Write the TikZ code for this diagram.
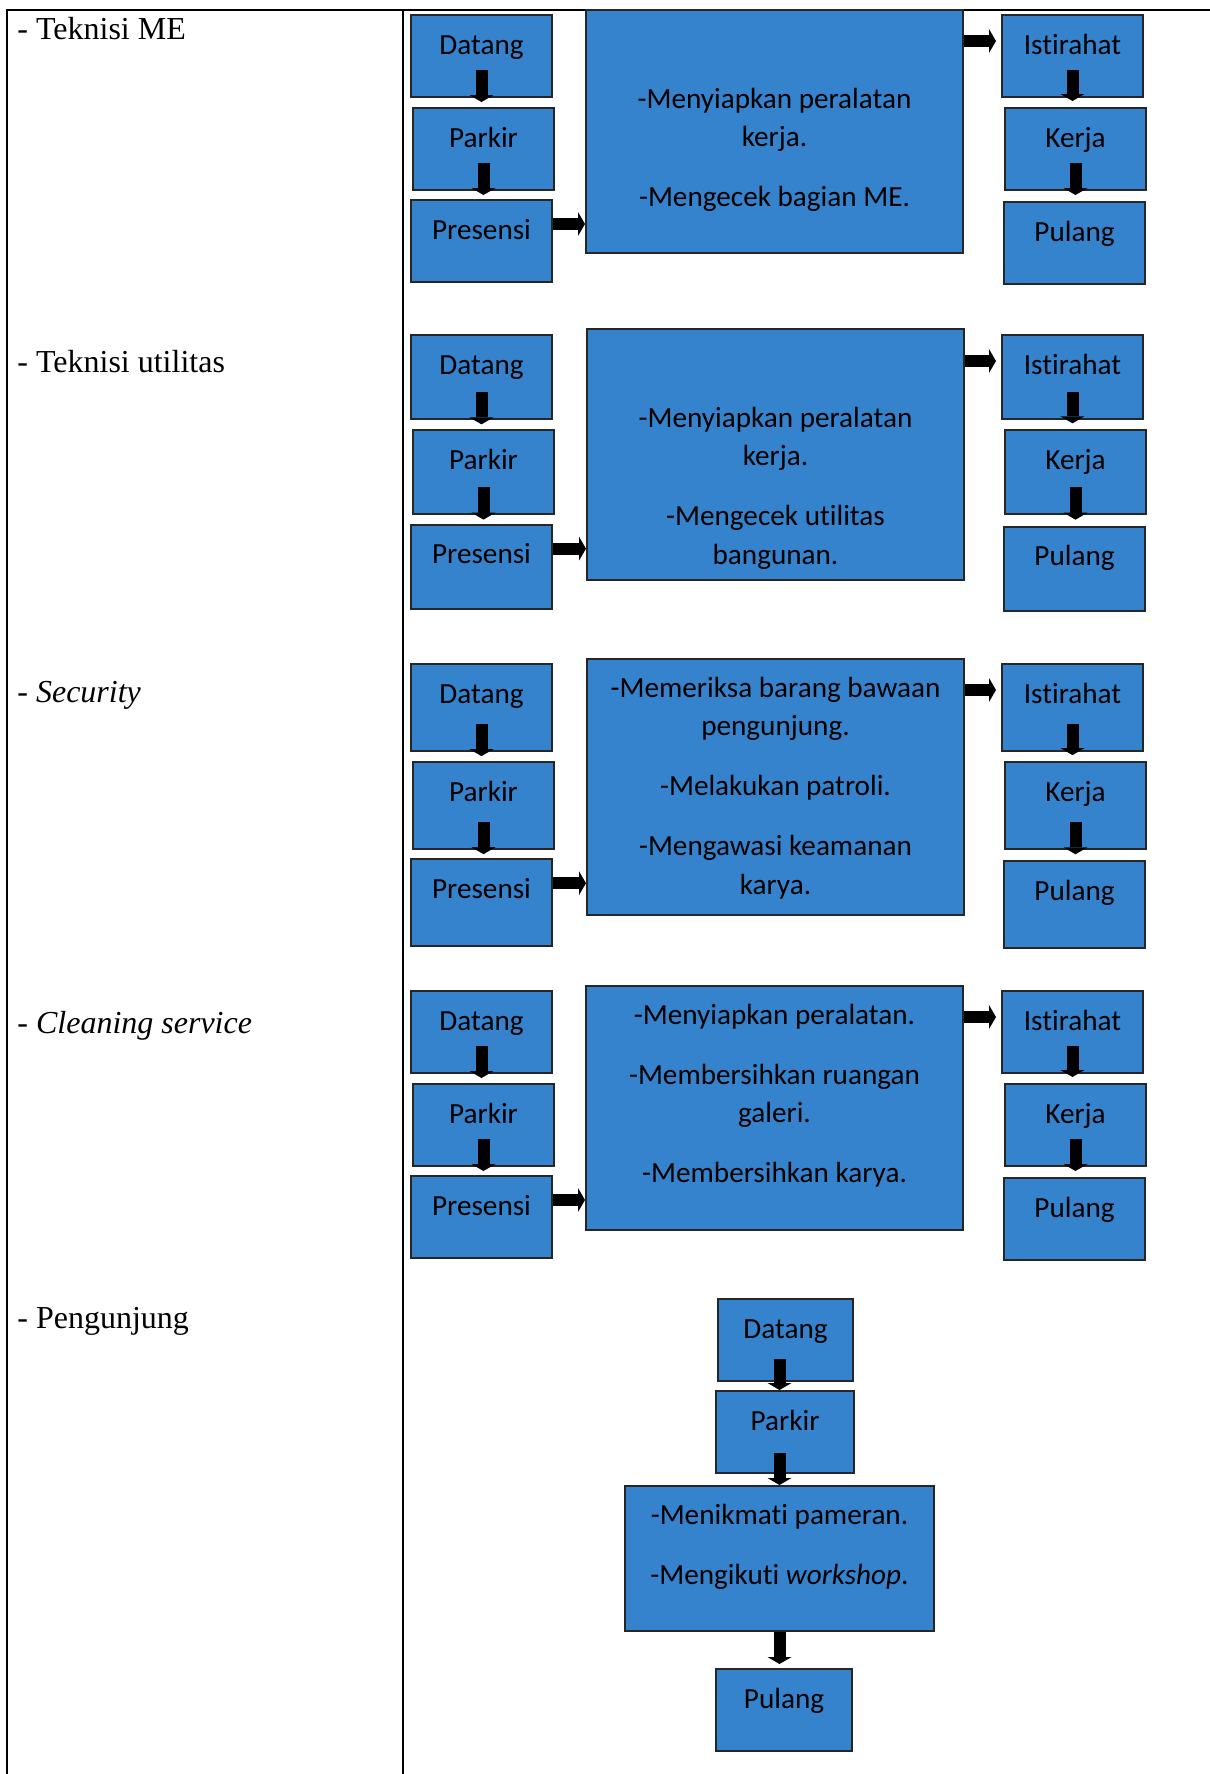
\documentclass[tikz,border=0pt]{standalone}
\usepackage{fontspec}
\setmainfont{Liberation Serif}
\newfontfamily\boxfont[Ligatures=NoCommon]{Carlito}
\usetikzlibrary{arrows.meta}
\definecolor{boxblue}{RGB}{52,131,204}

\begin{document}
\begin{tikzpicture}[x=0.5pt, y=-0.5pt,
  smallbox/.style={draw=black!85, line width=1pt, fill=boxblue, inner sep=0pt,
    minimum width=70.5pt, text height=19.5pt, text depth=21.5pt, anchor=north west,
    font=\boxfont\fontsize{14.6pt}{19.25pt}\selectfont},
  bigbox/.style={smallbox, minimum width=188.5pt},
  arr/.style={line width=6pt, -{Triangle[width=12pt,length=3.5pt,line width=0pt]}},
  lab/.style={anchor=base west, inner sep=0pt, font=\fontsize{16pt}{19pt}\selectfont}]
\useasboundingbox (0,0) rectangle (1210,1774);

% Table lines
\draw[line width=1.3pt] (1210,10) -- (7,10) -- (7,1774);
\draw[line width=1.3pt] (403,10) -- (403,1774);

% Labels
\node[lab] (l1) at (17,39) {- Teknisi ME};
\node[lab] (l2) at (17,372) {- Teknisi utilitas};
\node[lab] (l3) at (17,702) {- \textit{Security}};
\node[lab] (l4) at (17,1033) {- \textit{Cleaning service}};
\node[lab] (l5) at (17,1328) {- Pengunjung};

% Task boxes
\node[bigbox, text height=49pt, text depth=72.5pt] (k1) at (585,9)
  {\parbox[t]{188.5pt}{\centering -Menyiapkan peralatan\\ kerja.\\[10.75pt] -Mengecek bagian ME.}};
\node[bigbox, text height=49pt, text depth=76.5pt] (k2) at (586,328)
  {\parbox[t]{188.5pt}{\centering -Menyiapkan peralatan\\ kerja.\\[10.75pt] -Mengecek utilitas\\ bangunan.}};
\node[bigbox, text height=19pt, text depth=109pt] (k3) at (586,658)
  {\parbox[t]{188.5pt}{\centering -Memeriksa barang bawaan\\ pengunjung.\\[10.75pt] -Melakukan patroli.\\[10.75pt] -Mengawasi keamanan\\ karya.}};
\node[bigbox, text height=19pt, text depth=103pt] (k4) at (585,985)
  {\parbox[t]{188.5pt}{\centering -Menyiapkan peralatan.\\[10.75pt] -Membersihkan ruangan\\ galeri.\\[10.75pt] -Membersihkan karya.}};

% Staff rows
\foreach \r/\y/\s in {1/14/1, 2/334/1.025, 3/663/1.055, 4/990/1} {
  \pgfmathsetmacro\dep{41*\s-19.5}
  \node[smallbox, text depth=\dep pt] (d\r) at (410,\y) {Datang};
  \node[smallbox, text depth=\dep pt] (p\r) at (412,{\y+93*\s}) {Parkir};
  \node[smallbox, text depth=\dep pt] (s\r) at (410,{\y+185*\s}) {Presensi};
  \node[smallbox, text depth=\dep pt] (i\r) at (1001,\y) {Istirahat};
  \node[smallbox, text depth=\dep pt] (j\r) at (1004,{\y+93*\s}) {Kerja};
  \node[smallbox, text depth=\dep pt] (u\r) at (1003,{\y+187*\s}) {Pulang};
  \draw[arr, shorten >=2.5pt] ([yshift=14pt]d\r.south) -- (d\r.south |- p\r.north);
  \draw[arr, shorten >=2pt] ([yshift=14pt]p\r.south) -- (p\r.south |- s\r.north);
  \draw[arr] ([yshift=-12.5pt]s\r.north east) -- ([yshift=-12.5pt]k\r.west |- s\r.north);
  \draw[arr, shorten >=2.5pt] ([yshift=-13.5pt]k\r.east |- i\r.north) -- ([yshift=-13.5pt]i\r.north west);
  \draw[arr, shorten >=3pt] ([yshift=14pt]i\r.south) -- (i\r.south |- j\r.north);
  \draw[arr, shorten >=3pt] ([yshift=14pt]j\r.south) -- (j\r.south |- u\r.north);
}

% Pengunjung
\node[smallbox, minimum width=67.5pt] (d5) at (717,1298) {Datang};
\node[smallbox, minimum width=69pt] (p5) at (715,1390) {Parkir};
\node[bigbox, minimum width=154.5pt, text height=19pt, text depth=53.5pt] (k5) at (624,1485)
  {\parbox[t]{154.5pt}{\centering -Menikmati pameran.\\[10.75pt] -Mengikuti \textit{workshop}.}};
\node[smallbox, minimum width=68pt] (u5) at (715,1668) {Pulang};
\draw[arr] ([yshift=11.5pt]k5.north |- d5.south) -- (k5.north |- p5.north);
\draw[arr] ([yshift=10.5pt]k5.north |- p5.south) -- (k5.north);
\draw[arr, shorten >=2pt] (k5.south) -- (k5.south |- u5.north);
\end{tikzpicture}
\end{document}
